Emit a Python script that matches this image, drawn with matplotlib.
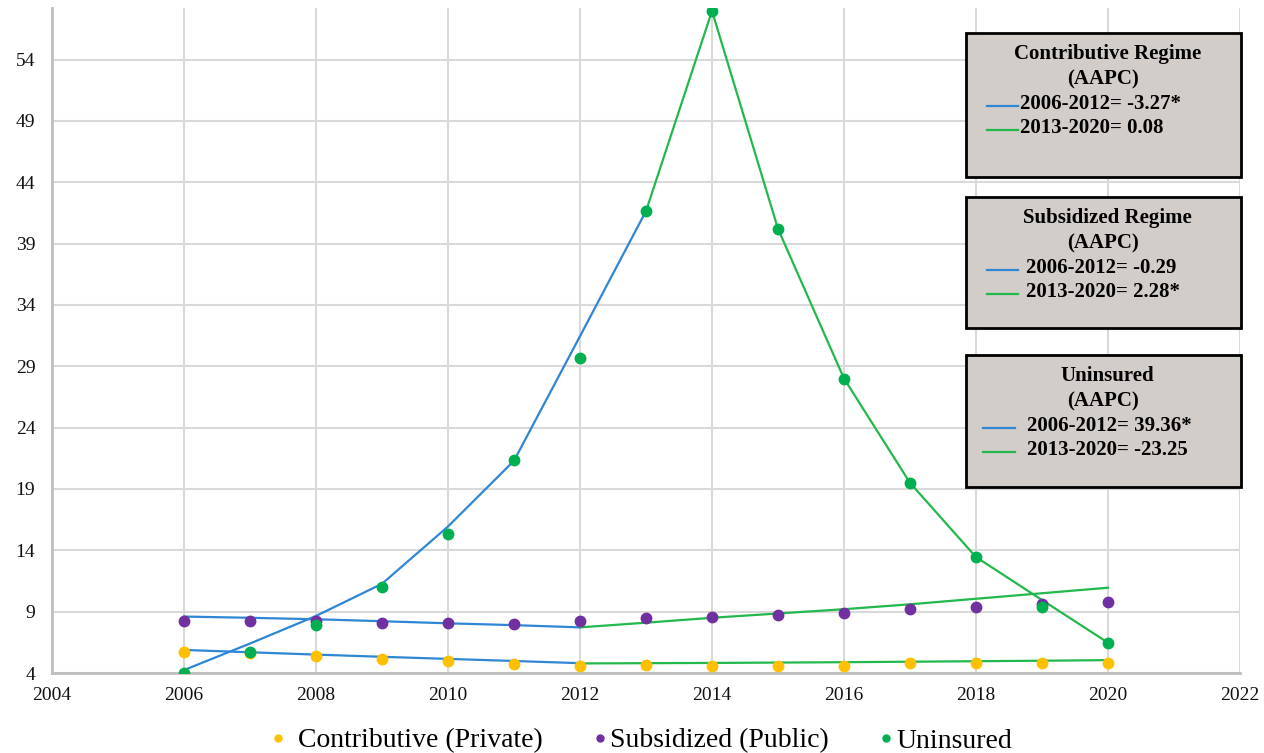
import matplotlib.pyplot as plt
from matplotlib.lines import Line2D
from matplotlib.patches import Rectangle

# observed rates per year
years = list(range(2006, 2021))
contributive = [5.74, 5.63, 5.39, 5.12, 4.98, 4.76, 4.57, 4.65, 4.57, 4.57, 4.57, 4.79, 4.84, 4.79, 4.79]
subsidized = [8.24, 8.24, 8.24, 8.10, 8.10, 7.98, 8.24, 8.45, 8.55, 8.73, 8.87, 9.20, 9.36, 9.63, 9.82]
uninsured = [4.0, 5.71, 7.92, 11.0, 15.35, 21.4, 29.7, 41.65, 57.96, 40.2, 28.0, 19.5, 13.45, 9.36, 6.47]

# joinpoint model segments
fit_years_a = list(range(2006, 2013))
fit_years_b = list(range(2012, 2021))
contrib_fit_a = [5.88, 5.69, 5.50, 5.32, 5.15, 4.98, 4.80]
contrib_fit_b = [4.78, 4.80, 4.82, 4.85, 4.88, 4.92, 4.96, 5.00, 5.05]
subsid_fit_a = [8.60, 8.50, 8.38, 8.22, 8.05, 7.90, 7.72]
subsid_fit_b = [7.72, 8.10, 8.50, 8.85, 9.20, 9.60, 10.05, 10.50, 10.95]

unins_years_a = list(range(2006, 2014))
unins_years_b = list(range(2013, 2021))
unins_fit_a = [4.24, 6.4, 8.65, 11.27, 15.94, 21.3, 31.45, 41.65]
unins_fit_b = [41.65, 57.96, 40.2, 28.0, 19.5, 13.45, 9.95, 6.47]

boxes = [
    ("Contributive Regime", ["2006-2012= -3.27*", "2013-2020= 0.08"]),
    ("Subsidized Regime", ["2006-2012= -0.29", "2013-2020= 2.28*"]),
    ("Uninsured", ["2006-2012= 39.36*", "2013-2020= -23.25"]),
]

series_labels = ["Contributive (Private)", "Subsidized (Public)", "Uninsured"]

c_yellow = "#FFC000"
c_purple = "#7030A0"
c_green = "#00B050"
c_blue_line = "#2E86D4"
c_green_line = "#22B84C"

W, H = 1264, 753
fig = plt.figure(figsize=(W / 100, H / 100), dpi=100)
ax = fig.add_axes([52 / W, 1 - 673 / H, (1240 - 52) / W, (673 - 8) / H])

serif = ["Liberation Serif", "DejaVu Serif"]

# fitted lines
ax.plot(fit_years_a, contrib_fit_a, color=c_blue_line, lw=1.6, zorder=2)
ax.plot(fit_years_b, contrib_fit_b, color=c_green_line, lw=1.6, zorder=2)
ax.plot(fit_years_a, subsid_fit_a, color=c_blue_line, lw=1.6, zorder=2)
ax.plot(fit_years_b, subsid_fit_b, color=c_green_line, lw=1.6, zorder=2)
ax.plot(unins_years_a, unins_fit_a, color=c_blue_line, lw=1.6, zorder=2)
ax.plot(unins_years_b, unins_fit_b, color=c_green_line, lw=1.6, zorder=2)

# observed points
ax.plot(years, contributive, "o", color=c_yellow, ms=7.5, zorder=3)
ax.plot(years, subsidized, "o", color=c_purple, ms=7.5, zorder=3)
ax.plot(years, uninsured, "o", color=c_green, ms=7.5, zorder=3)

ax.set_xlim(2004, 2022)
ax.set_ylim(4, 58.2)
ax.set_xticks(range(2004, 2023, 2))
ax.set_yticks(range(4, 58, 5))
ax.grid(True, color="#D9D9D9", lw=1.5)
ax.set_axisbelow(True)
for s in ["top", "right"]:
    ax.spines[s].set_visible(False)
for s in ["left", "bottom"]:
    ax.spines[s].set_color("#BFBFBF")
    ax.spines[s].set_linewidth(2)
ax.tick_params(length=0, labelsize=14, colors="#111111")
ax.tick_params(axis="x", pad=10)
ax.tick_params(axis="y", pad=12)
for lab in ax.get_xticklabels() + ax.get_yticklabels():
    lab.set_fontfamily(serif)


def px(x, y):
    return x / W, 1 - y / H


# AAPC boxes
box_tops = [33, 197, 355]
box_bottoms = [177, 328, 487]
line_x = [(987, 1018), (987, 1018), (983, 1015)]
text_x = [1020, 1026, 1027]
for (title, rows), top, bot, (lx0, lx1), tx in zip(boxes, box_tops, box_bottoms, line_x, text_x):
    x0, y0 = px(966, bot)
    x1, y1 = px(1241, top)
    fig.add_artist(Rectangle((x0, y0), x1 - x0, y1 - y0, transform=fig.transFigure,
                             facecolor="#D3CDC9", edgecolor="black", lw=2, zorder=5))
    cx = (966 + 1241) / 2
    fig.text(*px(cx + 4, top + 21), title, ha="center", va="center", fontsize=15,
             fontweight="bold", family=serif, zorder=6)
    fig.text(*px(cx, top + 46), "(AAPC)", ha="center", va="center", fontsize=15,
             fontweight="bold", family=serif, zorder=6)
    for i, (row, col) in enumerate(zip(rows, [c_blue_line, c_green_line])):
        ry = top + 71 + 24 * i
        a, b = px(lx0, ry + 2)
        c, d = px(lx1, ry + 2)
        fig.add_artist(Line2D([a, c], [b, d], transform=fig.transFigure, color=col, lw=1.6, zorder=6))
        fig.text(*px(tx, ry), row, ha="left", va="center", fontsize=15,
                 fontweight="bold", family=serif, zorder=6)

# bottom legend
leg_colors = [c_yellow, c_purple, c_green]
leg_marker_x = [278, 600, 886]
leg_text_x = [298, 610, 896]
for lab, col, mx, tx in zip(series_labels, leg_colors, leg_marker_x, leg_text_x):
    a, b = px(mx, 738)
    fig.add_artist(Line2D([a], [b], transform=fig.transFigure, ls="", marker="o",
                          color=col, ms=5))
    fig.text(*px(tx, 741), lab, ha="left", va="center", fontsize=20, family=serif)

plt.savefig("out.png", dpi=100)
